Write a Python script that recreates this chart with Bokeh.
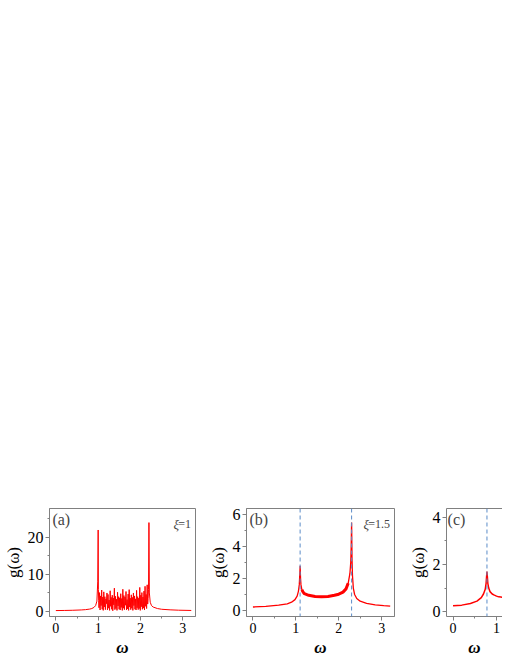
from bokeh.plotting import figure
from bokeh.layouts import row
from bokeh.models import Span, Label, FixedTicker, LinearAxis, Range1d
from bokeh.embed import file_html
from bokeh.resources import INLINE

# ---------------- data ----------------
# panel (a), xi = 1
w_a_left = [0.0, 0.2, 0.4, 0.6, 0.7, 0.8, 0.85, 0.9, 0.94, 0.97, 0.99, 1.0, 1.005, 1.012]
g_a_left = [0.25, 0.28, 0.33, 0.42, 0.5, 0.65, 0.8, 1.1, 1.6, 2.8, 8.0, 22.0, 6.0, 3.0]
w_a_mid = [1.020, 1.033, 1.045, 1.058, 1.070, 1.083, 1.095, 1.108, 1.120, 1.133,
           1.145, 1.158, 1.170, 1.183, 1.195, 1.208, 1.220, 1.233, 1.245, 1.258,
           1.270, 1.283, 1.295, 1.308, 1.320, 1.333, 1.345, 1.358, 1.370, 1.383,
           1.395, 1.408, 1.420, 1.433, 1.445, 1.458, 1.470, 1.483, 1.495, 1.508,
           1.520, 1.533, 1.545, 1.558, 1.570, 1.583, 1.595, 1.608, 1.620, 1.633,
           1.645, 1.658, 1.670, 1.683, 1.695, 1.708, 1.720, 1.733, 1.745, 1.758,
           1.770, 1.783, 1.795, 1.808, 1.820, 1.833, 1.845, 1.858, 1.870, 1.883,
           1.895, 1.908, 1.920, 1.933, 1.945, 1.958, 1.970, 1.983, 1.995, 2.008,
           2.020, 2.033, 2.045, 2.058, 2.070, 2.083, 2.095, 2.108, 2.120, 2.133,
           2.145, 2.158, 2.170]
g_a_mid = [1.0, 5.1, 0.4, 4.2, 1.6, 5.8, 0.6, 3.9, 0.3, 5.3,
           1.2, 4.0, 0.5, 3.4, 2.1, 5.0, 0.4, 4.6, 0.9, 3.1,
           0.3, 5.6, 1.4, 3.8, 0.6, 4.4, 0.2, 3.6, 1.8, 6.3,
           0.5, 4.1, 0.8, 3.3, 0.3, 5.2, 1.5, 4.0, 0.6, 3.7,
           0.4, 4.8, 1.1, 3.5, 0.3, 6.0, 0.9, 4.3, 0.5, 3.9,
           1.7, 5.4, 0.4, 3.2, 0.7, 4.7, 0.3, 5.9, 1.2, 3.6,
           0.5, 4.5, 0.9, 3.8, 0.3, 5.0, 1.6, 4.2, 0.6, 3.4,
           0.4, 5.7, 1.0, 4.0, 0.5, 3.6, 0.8, 6.5, 0.3, 4.4,
           1.3, 5.1, 0.6, 3.9, 0.9, 5.5, 0.4, 6.8, 1.4, 4.6,
           0.8, 7.2, 2.0]
w_a_right = [2.18, 2.19, 2.2, 2.21, 2.23, 2.26, 2.3, 2.4, 2.5, 2.7, 2.9, 3.2]
g_a_right = [3.5, 6.0, 24.0, 5.0, 2.5, 1.6, 1.2, 0.8, 0.6, 0.45, 0.35, 0.28]

# panel (b), xi = 1.5
w_b = [0.0, 0.3, 0.6, 0.8, 0.9, 0.98, 1.03, 1.06, 1.08, 1.09, 1.1, 1.11, 1.12, 1.14, 1.17,
       1.2, 1.3, 1.45, 1.6, 1.75, 1.9, 2.0, 2.1, 2.17, 2.22, 2.26, 2.28, 2.29, 2.3, 2.31,
       2.32, 2.34, 2.37, 2.42, 2.5, 2.65, 2.85, 3.05, 3.2]
g_b = [0.22, 0.26, 0.33, 0.42, 0.52, 0.68, 0.9, 1.2, 1.6, 2.1, 2.8, 2.0, 1.6, 1.3, 1.15,
       1.05, 0.95, 0.88, 0.86, 0.88, 0.95, 1.02, 1.15, 1.35, 1.7, 2.3, 3.0, 3.9, 5.5, 3.2,
       2.2, 1.4, 1.0, 0.75, 0.58, 0.45, 0.35, 0.3, 0.27]
edges_b = [1.1, 2.3]

# panel (c)
w_c = [0.0, 0.2, 0.4, 0.55, 0.65, 0.7, 0.74, 0.76, 0.77, 0.78, 0.79, 0.8, 0.82, 0.85,
       0.9, 0.95, 1.0, 1.05, 1.1, 1.15]
g_c = [0.25, 0.28, 0.35, 0.45, 0.6, 0.75, 0.95, 1.2, 1.45, 1.7, 1.45, 1.2, 1.0, 0.85,
       0.75, 0.7, 0.66, 0.63, 0.62, 0.61]
edges_c = [0.78]

x_ticks = [0, 1, 2, 3]
x_minor = [0.5, 1.5, 2.5]

FONT = "Liberation Serif"
GRAY = "#808080"
RED = "#ff0000"
BLUE = "#5b8cc8"


def panel(fw, lb, rb, yr, yt, ym, xr, tag, xi_val, xi_off, outline=True):
    p = figure(frame_width=fw, frame_height=108, min_border_top=508, min_border_bottom=30,
               min_border_left=lb, min_border_right=rb,
               x_range=Range1d(*xr), y_range=Range1d(*yr),
               output_backend="svg", toolbar_location=None)
    p.grid.visible = False
    p.background_fill_color = "white"
    p.border_fill_color = "white"
    p.outline_line_color = GRAY if outline else None
    for ax in (p.xaxis[0], p.yaxis[0]):
        ax.axis_line_color = GRAY
        ax.major_tick_line_color = GRAY
        ax.minor_tick_line_color = GRAY
        ax.major_tick_out = 4
        ax.major_tick_in = 0
        ax.minor_tick_out = 2
        ax.minor_tick_in = 0
        ax.major_label_text_font = FONT
        ax.major_label_text_color = "black"
        ax.axis_label_text_font = FONT
        ax.axis_label_text_color = "black"
        ax.major_label_standoff = 2
        ax.axis_label_standoff = 2
    p.xaxis.ticker = FixedTicker(ticks=x_ticks, minor_ticks=x_minor)
    p.yaxis.ticker = FixedTicker(ticks=yt, minor_ticks=ym)
    p.xaxis.major_label_text_font_size = "14px"
    p.yaxis.major_label_text_font_size = "16px"
    p.xaxis.axis_label = "ω"
    p.xaxis.axis_label_text_font_style = "bold italic"
    p.xaxis.axis_label_text_font_size = "17px"
    p.yaxis.axis_label = "g(ω)"
    p.yaxis.axis_label_text_font_style = "normal"
    p.yaxis.axis_label_text_font_size = "17px"
    xs, xe = xr
    ys, ye = yr
    p.add_layout(Label(x=xs + 0.02 * (xe - xs), y=ye - 0.02 * (ye - ys), text=tag,
                       text_font=FONT, text_font_size="16px", text_baseline="top",
                       text_align="left"))
    if xi_val:
        lx = xe - 0.03 * (xe - xs)
        ly = ye - 0.08 * (ye - ys)
        p.add_layout(Label(x=lx, y=ly, text=xi_val, text_font=FONT, text_font_size="12px",
                           text_baseline="top", text_align="right"))
        p.add_layout(Label(x=lx, y=ly, x_offset=-xi_off, text="ξ", text_font=FONT,
                           text_font_size="13px", text_baseline="top", text_align="right",
                           text_font_style="italic"))
    return p


pa = panel(146, 48, 8, (-1.35, 27.8), [0, 10, 20], [5, 15, 25], (-0.15, 3.3), "(a)", "=1", 12)
pa.line(w_a_left + w_a_mid + w_a_right, g_a_left + g_a_mid + g_a_right, color=RED, line_width=1)

pb = panel(148, 43, 10, (-0.375, 6.375), [0, 2, 4, 6], [1, 3, 5], (-0.15, 3.3), "(b)", "=1.5", 21)
for e in edges_b:
    pb.add_layout(Span(location=e, dimension="height", line_color=BLUE, line_dash="4 3", line_width=1))
pb.line(w_b, g_b, color=RED, line_width=1.3)
pb.line(w_b[13:25], g_b[13:25], color=RED, line_width=3)

pc = panel(56, 42, 0, (-0.2, 4.36), [0, 2, 4], [1, 3], (-0.15, 1.137), "(c)", None, 0, outline=False)
top_ax = LinearAxis(axis_line_color=GRAY, major_tick_line_color=None, minor_tick_line_color=None,
                    ticker=FixedTicker(ticks=[]))
pc.add_layout(top_ax, "above")
for e in edges_c:
    pc.add_layout(Span(location=e, dimension="height", line_color=BLUE, line_dash="4 3", line_width=1))
pc.line(w_c, g_c, color=RED, line_width=1.5)

layout = row(pa, pb, pc, spacing=0)
open("out.html", "w").write(file_html(layout, INLINE))
